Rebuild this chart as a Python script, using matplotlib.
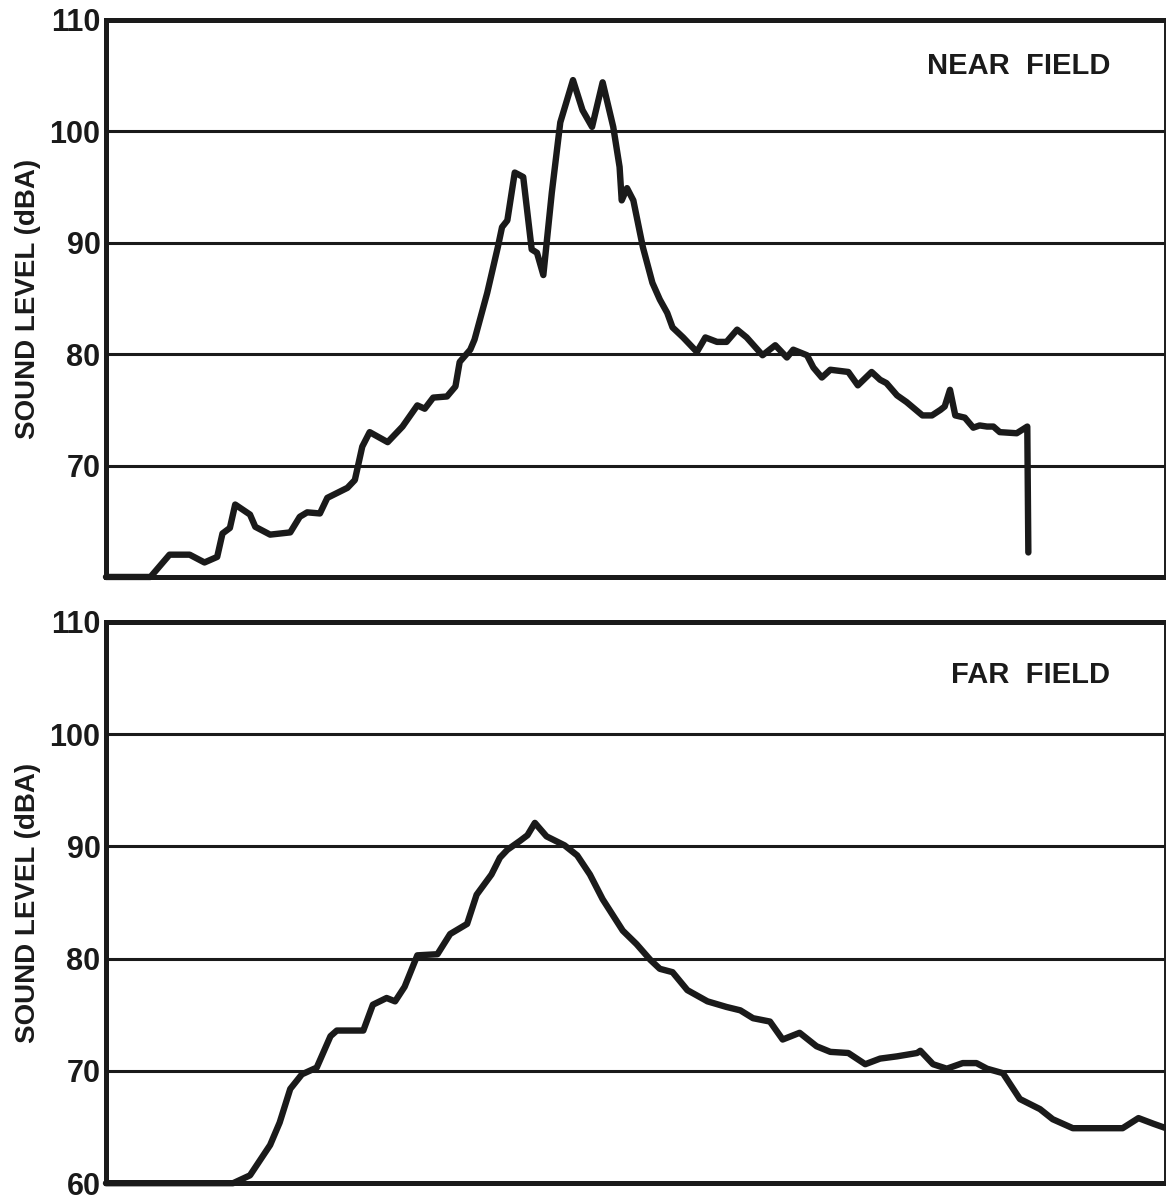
import matplotlib
matplotlib.use("Agg")
import matplotlib.pyplot as plt

# Time axis runs 0-100 (arbitrary units, no tick marks shown)
near_t = [0, 4.2, 6.0, 7.9, 9.3, 10.5, 11.0, 11.7, 12.2, 13.6, 14.1, 15.5, 17.4,
          18.3, 19.0, 20.2, 20.9, 22.8, 23.5, 24.2, 24.9, 26.6, 28.0, 29.4, 30.1,
          30.9, 32.2, 33.0, 33.4, 34.4, 34.8, 36.0, 37.0, 37.4, 37.9, 38.6, 39.4,
          40.2, 40.7, 41.3, 42.1, 42.9, 44.1, 45.0, 45.9, 46.9, 47.9, 48.5, 48.7,
          49.2, 49.8, 50.7, 51.6, 52.3, 53.0, 53.5, 54.5, 55.8, 56.6, 57.7, 58.6,
          59.6, 60.5, 62.0, 63.2, 64.3, 64.9, 66.2, 66.8, 67.6, 68.4, 70.1, 71.0,
          72.3, 73.1, 73.7, 74.7, 75.6, 77.1, 78.0, 78.8, 79.2, 79.7, 80.2, 81.1,
          81.9, 82.5, 83.2, 83.8, 84.4, 86.0, 87.0, 87.1]
near_db = [60.0, 60.0, 62.0, 62.0, 61.3, 61.8, 63.9, 64.4, 66.5, 65.6, 64.5, 63.8, 64.0,
           65.4, 65.8, 65.7, 67.1, 68.0, 68.7, 71.7, 73.0, 72.1, 73.5, 75.4, 75.1,
           76.1, 76.2, 77.1, 79.3, 80.4, 81.3, 85.5, 89.6, 91.4, 92.0, 96.3, 95.9,
           89.4, 89.1, 87.1, 94.5, 100.8, 104.6, 101.9, 100.4, 104.4, 100.4, 96.8, 93.8,
           94.9, 93.8, 89.6, 86.4, 84.9, 83.7, 82.4, 81.5, 80.2, 81.5, 81.1, 81.1,
           82.2, 81.5, 79.9, 80.8, 79.7, 80.4, 79.9, 78.8, 77.9, 78.6, 78.4, 77.2,
           78.4, 77.7, 77.4, 76.3, 75.7, 74.5, 74.5, 75.0, 75.3, 76.8, 74.5, 74.3,
           73.4, 73.6, 73.5, 73.5, 73.0, 72.9, 73.5, 62.2]

far_t = [0, 12.0, 13.6, 15.5, 16.4, 17.4, 18.5, 19.9, 21.2, 21.8, 24.3, 25.2, 26.5,
         27.3, 28.2, 29.4, 31.3, 32.5, 34.1, 35.0, 36.4, 37.2, 37.9, 39.1, 39.8,
         40.5, 41.6, 43.3, 44.5, 45.7, 46.9, 48.8, 50.1, 51.4, 52.3, 53.5, 54.9,
         56.8, 58.6, 59.9, 61.1, 62.7, 63.9, 65.5, 67.1, 68.4, 70.1, 71.7, 73.1,
         74.7, 76.6, 76.9, 78.1, 79.4, 80.9, 82.2, 83.2, 84.7, 86.3, 88.2, 89.4,
         91.3, 96.0, 97.5, 98.9, 100.1]
far_db = [60.0, 60.0, 60.7, 63.4, 65.4, 68.4, 69.7, 70.3, 73.1, 73.6, 73.6, 75.9, 76.5,
          76.2, 77.5, 80.3, 80.4, 82.2, 83.1, 85.7, 87.5, 89.0, 89.7, 90.5, 91.0,
          92.1, 90.9, 90.1, 89.2, 87.5, 85.3, 82.5, 81.3, 79.9, 79.1, 78.8, 77.2,
          76.2, 75.7, 75.4, 74.7, 74.4, 72.8, 73.4, 72.2, 71.7, 71.6, 70.6, 71.1,
          71.3, 71.6, 71.8, 70.6, 70.2, 70.7, 70.7, 70.2, 69.8, 67.5, 66.6, 65.7,
          64.9, 64.9, 65.8, 65.3, 64.9]

near_ticks = [70, 80, 90, 100, 110]
far_ticks = [60, 70, 80, 90, 100, 110]
grid_levels = [70, 80, 90, 100]
ylabel = "SOUND LEVEL (dBA)"

INK = "#1a1a1a"
FONT = "Liberation Sans"

fig = plt.figure(figsize=(11.66, 12.0), dpi=100)
ax_top = fig.add_axes([0.0909, 0.5192, 0.9082, 0.4642])
ax_bot = fig.add_axes([0.0909, 0.0140, 0.9082, 0.4677])


def style_panel(ax, ticks, title, title_y):
    ax.set_xlim(0, 100)
    ax.set_ylim(60, 110)
    for lvl in grid_levels:
        ax.axhline(lvl, color=INK, lw=2.2, zorder=1)
    ax.set_xticks([])
    ax.set_yticks(ticks)
    ax.set_yticklabels([str(t) for t in ticks], fontsize=22, fontweight="bold",
                       family=FONT, color=INK)
    ax.tick_params(axis="y", length=0, pad=4)
    for side in ("left", "top", "bottom"):
        ax.spines[side].set_linewidth(3.6)
        ax.spines[side].set_color(INK)
    ax.spines["right"].set_linewidth(1.4)
    ax.spines["right"].set_color(INK)
    ax.set_ylabel(ylabel, fontsize=20, fontweight="bold", family=FONT,
                  color=INK, labelpad=6)
    ax.text(0.948, title_y, title, transform=ax.transAxes, ha="right",
            va="center", fontsize=21, fontweight="bold", family=FONT,
            color=INK)


style_panel(ax_top, near_ticks, "NEAR  FIELD", 0.918)
style_panel(ax_bot, far_ticks, "FAR  FIELD", 0.905)

for ax, t, db in ((ax_top, near_t, near_db), (ax_bot, far_t, far_db)):
    ax.plot(t, db, color=INK, lw=4.6, solid_joinstyle="round",
            solid_capstyle="round", zorder=3, clip_on=False)

fig.savefig("out.png", dpi=100)
